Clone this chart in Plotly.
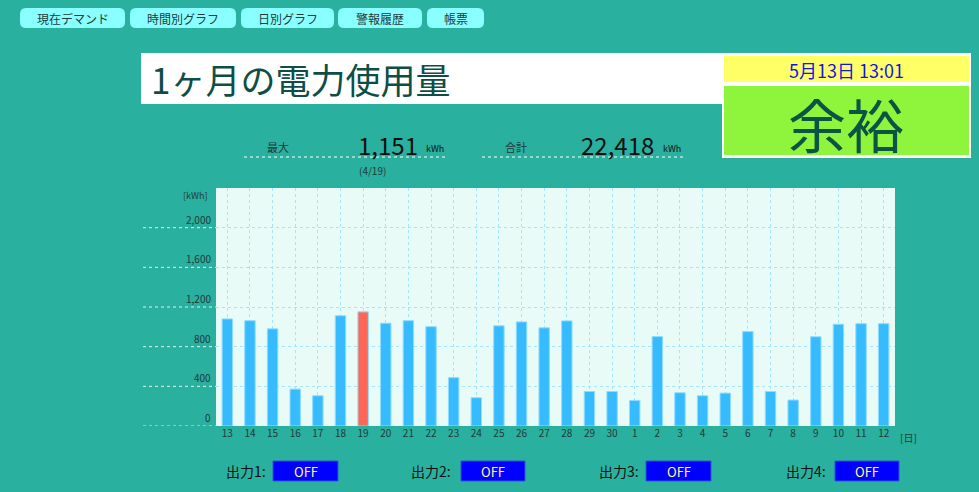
import plotly.graph_objects as go

days = ["13","14","15","16","17","18","19","20","21","22","23","24","25","26","27","28","29","30",
        "1","2","3","4","5","6","7","8","9","10","11","12"]
usage = [1080,1062,980,372,305,1112,1151,1036,1062,1002,488,285,1010,1050,990,1060,348,348,
         258,902,335,305,332,952,348,262,900,1026,1032,1032]
max_day = "19"
ytick_vals = [0, 400, 800, 1200, 1600, 2000]
ytick_text = ["0", "400", "800", "1,200", "1,600", "2,000"]
tabs = ["現在デマンド", "時間別グラフ", "日別グラフ", "警報履歴", "帳票"]
outputs = ["出力1:", "出力2:", "出力3:", "出力4:"]
output_state = ["OFF", "OFF", "OFF", "OFF"]
title_text = "1ヶ月の電力使用量"
date_text = "5月13日 13:01"
status_text = "余裕"
max_value_text = "1,151"
max_date_text = "(4/19)"
total_text = "22,418"

W, H = 979, 492
L, R, T, B = 216, 895, 188, 426
FONT = "Noto Sans CJK JP"
BG = "#2ab09e"

def px(x):
    return (x - L) / (R - L)

def py(y):
    return (B - y) / (B - T)

colors = ["#ff6655" if d == max_day else "#36bbff" for d in days]

fig = go.Figure(go.Bar(
    x=days, y=usage, width=0.46,
    marker=dict(color=colors, line=dict(color="#8fdcff", width=1)),
    hoverinfo="x+y",
))

shapes = []
ann = []

def rect(x0, y0, x1, y1, fill, line=None, lw=0):
    shapes.append(dict(type="rect", xref="paper", yref="paper",
                       x0=px(x0), x1=px(x1), y0=py(y1), y1=py(y0),
                       fillcolor=fill, line=dict(color=line or fill, width=lw), layer="below"))

def rrect(x0, y0, x1, y1, r, fill):
    def P(x, y):
        return f"{px(x):.5f},{py(y):.5f}"
    path = (f"M {P(x0+r,y0)} L {P(x1-r,y0)} Q {P(x1,y0)} {P(x1,y0+r)} "
            f"L {P(x1,y1-r)} Q {P(x1,y1)} {P(x1-r,y1)} L {P(x0+r,y1)} "
            f"Q {P(x0,y1)} {P(x0,y1-r)} L {P(x0,y0+r)} Q {P(x0,y0)} {P(x0+r,y0)} Z")
    shapes.append(dict(type="path", xref="paper", yref="paper", path=path,
                       fillcolor=fill, line=dict(color=fill, width=0), layer="below"))

def text(x, y, s, size, color, xanchor="left", yanchor="middle", pad=1):
    ann.append(dict(x=px(x), y=py(y), xref="paper", yref="paper", text=s, showarrow=False,
                    xanchor=xanchor, yanchor=yanchor, borderpad=pad,
                    font=dict(family=FONT, size=size, color=color)))

# tabs
tab_pos = [(20, 125), (130, 236), (241, 334), (338, 422), (427, 484)]
for (a, b), t in zip(tab_pos, tabs):
    rrect(a, 8, b, 28, 6, "#8affff")
    text((a + b) / 2, 18, t, 12, "#1d3b3b", xanchor="center")

# title box
rect(141, 53, 722, 104, "white")
text(149, 78, title_text, 35, "#0e4e46")

# status box
rect(722, 53, 971, 158, "white")
rect(724, 56, 969, 82, "#ffff66")
rect(724, 86, 969, 155, "#8ff53c")
text(846, 70, date_text, 18, "#1414e6", xanchor="center", pad=0)
text(846, 123, status_text, 58, "#0b5444", xanchor="center", pad=0)

# stats
text(265, 147, "最大", 11, "#1d3b3b")
text(420, 144, max_value_text, 24, "#111111", xanchor="right")
text(424, 149, "kWh", 9, "#111111")
text(372, 170, max_date_text, 10, "#1d3b3b", xanchor="center")
text(503, 147, "合計", 11, "#1d3b3b")
text(656, 144, total_text, 24, "#111111", xanchor="right")
text(661, 149, "kWh", 9, "#111111")
for a, b in [(244, 447), (482, 686)]:
    shapes.append(dict(type="line", xref="paper", yref="paper", x0=px(a), x1=px(b),
                       y0=py(157), y1=py(157), line=dict(color="white", width=1, dash="dot")))

# outside y grid extensions + labels
for v, s in zip(ytick_vals, ytick_text):
    shapes.append(dict(type="line", xref="paper", yref="y", x0=px(143), x1=0, y0=v, y1=v,
                       line=dict(color="#d8f4ef", width=1, dash="dot"), layer="below"))
    ann.append(dict(x=px(213), y=v, xref="paper", yref="y", text=s, showarrow=False,
                    xanchor="right", yanchor="bottom", yshift=-1,
                    font=dict(family=FONT, size=10, color="#1d3b3b")))
text(209, 195, "[kWh]", 9, "#1d3b3b", xanchor="right")
text(898, 437, "[日]", 10, "#1d3b3b")

# outputs
out_pos = [(224, 273, 338), (409, 461, 525), (597, 646, 711), (784, 835, 899)]
for (lx, a, b), o, st in zip(out_pos, outputs, output_state):
    text(lx, 471, o, 14, "#111111")
    rect(a, 461, b, 481, "#0000ff", line="#3355cc", lw=1)
    text((a + b) / 2, 471, st, 13, "#ffff80", xanchor="center")

fig.update_layout(
    width=W, height=H,
    margin=dict(l=L, r=W - R, t=T, b=H - B, pad=0),
    paper_bgcolor=BG, plot_bgcolor="#e8fbf6",
    showlegend=False, bargap=0.5,
    shapes=shapes, annotations=ann,
    font=dict(family=FONT),
    xaxis=dict(type="category", showgrid=True, gridcolor="#a8e4f6", griddash="dot", gridwidth=1,
               tickfont=dict(size=10, color="#1d3b3b"), ticks="", showline=False, zeroline=False,
               fixedrange=True),
    yaxis=dict(range=[0, 2400], tickvals=ytick_vals, showticklabels=False, showgrid=True,
               gridcolor="#a8e4f6", griddash="dot", gridwidth=1, zeroline=False, fixedrange=True),
)

fig.write_html("out.html", config={"displayModeBar": False},
               post_script="document.body.style.margin='0';document.body.style.overflow='hidden';")
